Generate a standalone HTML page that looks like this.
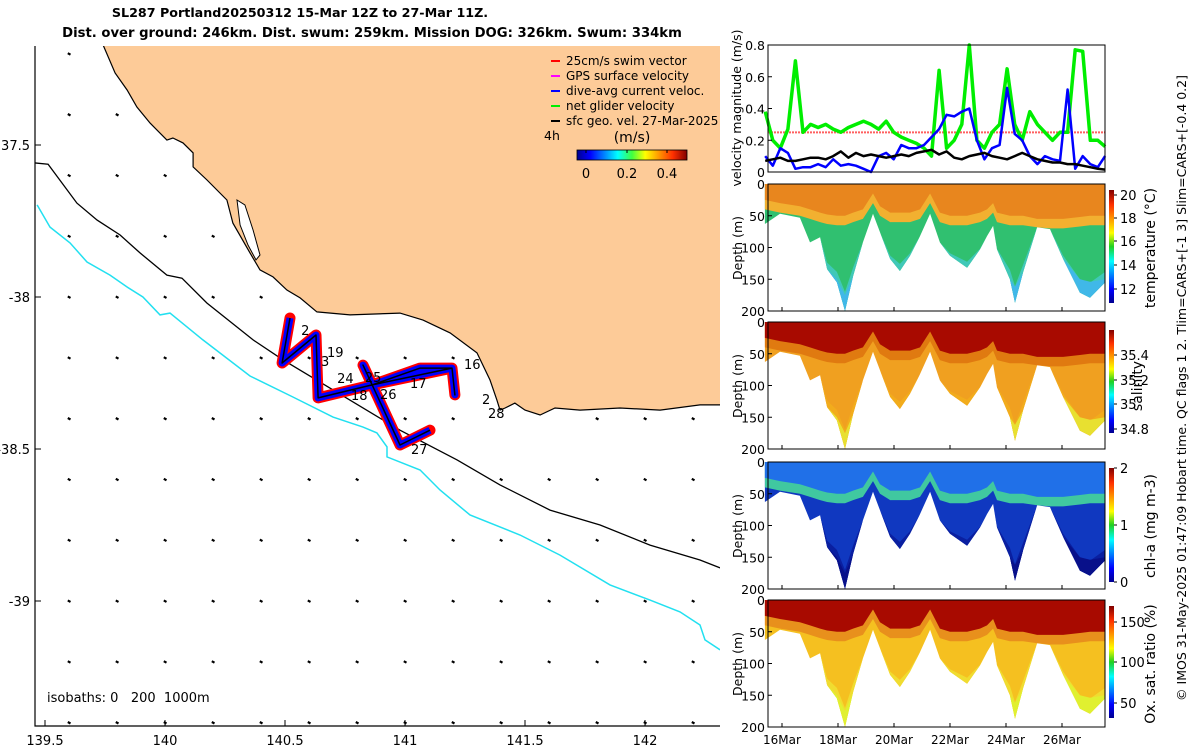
<!DOCTYPE html>
<html><head><meta charset="utf-8"><style>
html,body{margin:0;padding:0;background:#fff;width:1200px;height:750px;overflow:hidden}
svg{font-family:"DejaVu Sans","Liberation Sans",sans-serif}
</style></head><body>
<svg id="fig" width="1200" height="750" viewBox="0 0 1200 750" xmlns="http://www.w3.org/2000/svg">
<defs>
<linearGradient id="jetH" x1="0" x2="1" y1="0" y2="0">
<stop offset="0" stop-color="#00008f"/><stop offset="0.12" stop-color="#0000ff"/><stop offset="0.37" stop-color="#00ffff"/><stop offset="0.5" stop-color="#40ff40"/><stop offset="0.62" stop-color="#ffff00"/><stop offset="0.87" stop-color="#ff3000"/><stop offset="1" stop-color="#800000"/></linearGradient>
<linearGradient id="jetV" x1="0" x2="0" y1="1" y2="0">
<stop offset="0" stop-color="#00008f"/><stop offset="0.12" stop-color="#0000ff"/><stop offset="0.37" stop-color="#00ffff"/><stop offset="0.5" stop-color="#20d020"/><stop offset="0.62" stop-color="#ffff00"/><stop offset="0.87" stop-color="#ff3000"/><stop offset="1" stop-color="#800000"/></linearGradient>
<clipPath id="mapclip"><rect x="35" y="46" width="685" height="680"/></clipPath>
</defs>
<text x="300" y="17" text-anchor="middle" font-size="12.7" font-weight="bold">SL287 Portland20250312 15-Mar 12Z to 27-Mar 11Z.</text>
<text x="372" y="37" text-anchor="middle" font-size="13.2" font-weight="bold">Dist. over ground: 246km. Dist. swum: 259km. Mission DOG: 326km. Swum: 334km</text>
<g id="map"></g>
<g id="right"></g>
<text transform="translate(1186,388) rotate(-90)" text-anchor="middle" font-size="12.5">© IMOS 31-May-2025 01:47:09 Hobart time. QC flags 1  2. Tlim=CARS+[-1 3] Slim=CARS+[-0.4 0.2]</text>
</svg>
<script>
// ---------- MAP DATA ----------
const coastLon=[139.742,139.792,139.842,139.883,139.938,140.008,140.033,140.075,140.117,140.117,140.175,140.258,140.283,140.354,140.396,140.450,140.508,140.563,140.633,140.771,140.979,141.075,141.188,141.300,141.354,141.383,141.396,141.417,141.458,141.500,141.563,141.625,141.729,141.896,142.063,142.229,142.313];
const coastLat=[-37.171,-37.263,-37.319,-37.375,-37.428,-37.484,-37.477,-37.493,-37.526,-37.572,-37.615,-37.681,-37.757,-37.855,-37.911,-37.934,-37.977,-38.003,-38.049,-38.059,-38.053,-38.076,-38.118,-38.184,-38.273,-38.339,-38.372,-38.365,-38.349,-38.372,-38.388,-38.365,-38.372,-38.365,-38.372,-38.355,-38.355];
const islandLon=[140.300,140.333,140.367,140.396,140.379,140.346,140.313];
const islandLat=[-37.681,-37.697,-37.780,-37.862,-37.878,-37.829,-37.763];
const iso200Lon=[139.458,139.513,139.633,139.717,139.813,139.896,140.008,140.071,140.175,140.367,140.492,140.979,141.217,141.396,141.604,141.813,142.021,142.229,142.313];
const iso200Lat=[-37.559,-37.563,-37.691,-37.747,-37.796,-37.855,-37.928,-37.938,-38.020,-38.141,-38.207,-38.438,-38.536,-38.618,-38.701,-38.750,-38.816,-38.865,-38.891];
const iso1000Lon=[139.467,139.521,139.604,139.675,139.771,139.842,139.908,139.979,140.021,140.158,140.354,140.533,140.700,140.825,140.883,140.925,140.925,141.063,141.146,141.271,141.479,141.646,141.854,142.021,142.146,142.229,142.250,142.313];
const iso1000Lat=[-37.697,-37.770,-37.822,-37.885,-37.928,-37.967,-38.000,-38.059,-38.053,-38.141,-38.260,-38.329,-38.395,-38.428,-38.447,-38.493,-38.526,-38.569,-38.635,-38.717,-38.783,-38.849,-38.947,-38.997,-39.036,-39.079,-39.128,-39.161];
const trackLon=[140.521,140.488,140.629,140.638,140.863,141.063,141.196,141.208,141.196,140.863,140.825,140.979,141.104];
const trackLat=[-38.069,-38.217,-38.125,-38.332,-38.289,-38.234,-38.234,-38.322,-38.234,-38.289,-38.224,-38.487,-38.438];
const dayLabels=['2','19','3','24','25','17','16','18','26','2','28','27'];
const dayLabLon=[140.567,140.675,140.650,140.717,140.833,141.021,141.246,140.775,140.896,141.321,141.346,141.025];
const dayLabLat=[-38.125,-38.197,-38.227,-38.283,-38.280,-38.299,-38.237,-38.339,-38.335,-38.352,-38.398,-38.516];
const lonTicks=[139.5,140,140.5,141,141.5,142];
const latTicks=[-37.5,-38,-38.5,-39];

const NS='http://www.w3.org/2000/svg';
function mk(parent,tag,attrs,name){const e=document.createElementNS(NS,tag);for(const k in attrs)e.setAttribute(k,attrs[k]);


parent.appendChild(e);return e;}
const mx=lon=>45+(lon-139.5)*240;
const my=lat=>145+(-37.5-lat)*304;
const map=document.getElementById('map');
function pts(lons,lats){return lons.map((l,i)=>mx(l).toFixed(1)+','+my(lats[i]).toFixed(1)).join(' ');}
const mg=mk(map,'g',{'clip-path':'url(#mapclip)'},'map-content');
mk(mg,'polygon',{points:pts(coastLon,coastLat)+' '+mx(142.4)+','+my(-37.0)+' '+mx(139.74)+','+my(-37.0),fill:'#fdcb98',stroke:'none'},'land');
mk(mg,'polyline',{points:pts(coastLon,coastLat),fill:'none',stroke:'#000','stroke-width':1.2},'coastline-0m');
mk(mg,'polygon',{points:pts(islandLon,islandLat),fill:'#fff',stroke:'#000','stroke-width':1},'coastal-lake');
mk(mg,'polyline',{points:pts(iso200Lon,iso200Lat),fill:'none',stroke:'#000','stroke-width':1.3},'isobath-200m');
mk(mg,'polyline',{points:pts(iso1000Lon,iso1000Lat),fill:'none',stroke:'#22e0f0','stroke-width':1.5},'isobath-1000m');
function coastAt(lon){for(let i=0;i<coastLon.length-1;i++){if(lon>=coastLon[i]&&lon<=coastLon[i+1]){const t=(lon-coastLon[i])/(coastLon[i+1]-coastLon[i]||1);return coastLat[i]+t*(coastLat[i+1]-coastLat[i]);}}return lon<coastLon[0]?-99:-38.36;}
for(let lo=139.6;lo<142.31;lo+=0.2){for(let la=-37.2;la>-39.5;la-=0.2){
 if(lo>139.74&&la>coastAt(lo)-0.03)continue;
 const x=mx(lo),y=my(la);
 mk(mg,'line',{x1:x-1.2,y1:y-0.6,x2:x+1.5,y2:y+0.9,stroke:'#000','stroke-width':2.2},'geo-velocity-arrow');}}
mk(mg,'polyline',{points:pts(trackLon,trackLat),fill:'none',stroke:'#ff0000','stroke-width':11,'stroke-linejoin':'round','stroke-linecap':'round'},'swim-vector-track');
mk(mg,'polyline',{points:pts(trackLon,trackLat),fill:'none',stroke:'#0000ff','stroke-width':7,'stroke-linejoin':'round'},'dive-avg-current-track');
mk(mg,'polyline',{points:pts(trackLon,trackLat),fill:'none',stroke:'#000','stroke-width':1.5,'stroke-linejoin':'round'},'glider-track');
dayLabels.forEach((t,i)=>{const e=mk(mg,'text',{x:mx(dayLabLon[i]),y:my(dayLabLat[i]),'font-size':13},'day-label');e.textContent=t;});
mk(map,'polyline',{points:'35,46 35,726 720,726',fill:'none',stroke:'#000','stroke-width':1.2},'map-axes');
lonTicks.forEach(v=>{const x=mx(v);mk(map,'line',{x1:x,y1:726,x2:x,y2:720,stroke:'#000'},'x-tick');const t=mk(map,'text',{x:x,y:745,'text-anchor':'middle','font-size':13},'x-tick-label');t.textContent=String(v);});
latTicks.forEach((v,i)=>{const y=my(v);mk(map,'line',{x1:35,y1:y,x2:41,y2:y,stroke:'#000'},'y-tick');const t=mk(map,'text',{x:30,y:y+5,'text-anchor':'end','font-size':13},'y-tick-label');t.textContent=i===0?'37.5':String(v);});
const iso=mk(map,'text',{x:47,y:702,'font-size':13},'isobath-note');iso.textContent='isobaths: 0\u00a0\u00a0\u00a0200\u00a0\u00a01000m';
const leg=[['#ff0000','25cm/s swim vector'],['#ff00ff','GPS surface velocity'],['#0000ff','dive-avg current veloc.'],['#00ee00','net glider velocity'],['#000','sfc geo. vel. 27-Mar-2025']];
leg.forEach((d,i)=>{const y=61+i*15;mk(map,'line',{x1:551,y1:y,x2:560,y2:y,stroke:d[0],'stroke-width':2},'legend-swatch');const t=mk(map,'text',{x:566,y:y+4,'font-size':12},'legend-entry');t.textContent=d[1];});
const h4=mk(map,'text',{x:544,y:140,'font-size':12.5},'legend-4h');h4.textContent='4h';
const ms=mk(map,'text',{x:632,y:142,'text-anchor':'middle','font-size':14},'colorbar-title');ms.textContent='(m/s)';
mk(map,'rect',{x:577,y:150,width:110,height:10,fill:'url(#jetH)',stroke:'#000','stroke-width':0.8},'speed-colorbar');
[['0',586],['0.2',627],['0.4',667]].forEach(d=>{mk(map,'line',{x1:d[1],y1:150,x2:d[1],y2:153,stroke:'#000'},'colorbar-tick');const t=mk(map,'text',{x:d[1],y:178,'text-anchor':'middle','font-size':13},'colorbar-tick-label');t.textContent=d[0];});

// ---------- TIME SERIES DATA ----------
const velDays=[15.4,15.67,15.94,16.21,16.48,16.75,17.02,17.29,17.56,17.83,18.1,18.37,18.64,18.91,19.18,19.45,19.72,19.99,20.26,20.53,20.8,21.07,21.34,21.61,21.88,22.15,22.42,22.69,22.96,23.23,23.5,23.77,24.04,24.31,24.58,24.85,25.12,25.39,25.66,25.93,26.2,26.47,26.74,27.01,27.28,27.54];
const netGlider=[0.38,0.2,0.15,0.27,0.7,0.25,0.3,0.28,0.3,0.27,0.25,0.28,0.3,0.32,0.3,0.27,0.32,0.25,0.22,0.2,0.18,0.15,0.1,0.64,0.15,0.2,0.3,0.8,0.2,0.15,0.25,0.3,0.65,0.3,0.2,0.38,0.3,0.25,0.2,0.25,0.25,0.77,0.76,0.2,0.2,0.16];
const diveAvg=[0.1,0.04,0.15,0.12,0.02,0.03,0.03,0.05,0.03,0.08,0.04,0.05,0.04,0.02,0.0,0.1,0.12,0.08,0.17,0.15,0.15,0.17,0.22,0.27,0.36,0.35,0.38,0.4,0.2,0.08,0.15,0.17,0.53,0.24,0.2,0.1,0.05,0.1,0.08,0.07,0.52,0.02,0.1,0.05,0.03,0.1];
const geoVel=[0.07,0.08,0.09,0.07,0.07,0.08,0.09,0.09,0.08,0.1,0.13,0.09,0.12,0.1,0.11,0.1,0.09,0.1,0.11,0.1,0.12,0.13,0.14,0.11,0.13,0.09,0.08,0.1,0.11,0.12,0.1,0.09,0.08,0.1,0.12,0.1,0.08,0.07,0.06,0.06,0.05,0.05,0.04,0.03,0.02,0.015];
const swimRef=0.25;
const velTicks=[0,0.2,0.4,0.6,0.8];
const profDays=[15.39,15.93,16.64,17.0,17.36,17.61,17.96,18.25,18.54,18.89,19.25,19.5,19.86,20.21,20.57,20.93,21.29,21.64,22.0,22.61,23.07,23.32,23.54,23.68,24.14,24.32,24.61,25.11,25.57,26.04,26.64,27.0,27.54];
const maxDepth=[63,47,53,92,84,134,155,200,145,92,47,76,118,137,113,82,47,92,113,132,103,82,66,103,150,187,139,68,71,118,171,179,155];
const mixedLayer=[25,30,35,40,45,48,50,50,45,40,15,35,45,45,45,40,15,45,50,50,45,40,30,45,50,50,50,55,55,55,52,50,50];
const depthTicks=[0,50,100,150,200];
const dateTicks=[16,18,20,22,24,26];
const dateLabels=['16Mar','18Mar','20Mar','22Mar','24Mar','26Mar'];

const R=document.getElementById('right');
const tx=d=>782+(d-16)*28;
const X0=768,X1=1105;
const vy=v=>172-v*158.75;
mk(R,'rect',{x:X0,y:45,width:X1-X0,height:127,fill:'#fff',stroke:'none'},'velocity-plot-bg');
mk(R,'line',{x1:X0,y1:vy(swimRef),x2:X1,y2:vy(swimRef),stroke:'#ff6060','stroke-width':2,'stroke-dasharray':'2,1'},'swim-speed-line');
function line(days,vals,col,w,name){mk(R,'polyline',{points:days.map((d,i)=>tx(d).toFixed(1)+','+vy(vals[i]).toFixed(1)).join(' '),fill:'none',stroke:col,'stroke-width':w,'stroke-linejoin':'round'},name);}
line(velDays,netGlider,'#00ee00',3.5,'net-glider-velocity-line');
line(velDays,diveAvg,'#0000ff',2.5,'dive-avg-velocity-line');
line(velDays,geoVel,'#000',2.5,'geostrophic-velocity-line');
mk(R,'rect',{x:X0,y:45,width:X1-X0,height:127,fill:'none',stroke:'#000','stroke-width':1},'velocity-axes');
velTicks.forEach(v=>{mk(R,'line',{x1:X0,y1:vy(v),x2:X0+4,y2:vy(v),stroke:'#000'},'velocity-tick');const t=mk(R,'text',{x:X0-3,y:vy(v)+5,'text-anchor':'end','font-size':12.5},'velocity-tick-label');t.textContent=String(v);});
const vl=mk(R,'text',{transform:'translate(741,108) rotate(-90)','text-anchor':'middle','font-size':12.5},'velocity-axis-title');vl.textContent='velocity magnitude (m/s)';

const panels=[
 {y0:184,name:'temperature',label:'temperature (°C)',lx:1155,top:'#e8861e',mid:'#f2b030',deep:'#30c070',bottom:'#40c8b8',tip:'#40b8e8',bar:[190,303],ticks:[['20',195],['18',218],['16',241],['14',265],['12',289]]},
 {y0:322,name:'salinity',label:'salinity',lx:1142,top:'#a80a00',mid:'#e07a10',deep:'#f0a020',bottom:'#f2ac1c',tip:'#e8e030',bar:[330,433],ticks:[['35.4',355],['35.2',380],['35',404],['34.8',429]]},
 {y0:462,name:'chlorophyll',label:'chl-a (mg m-3)',lx:1155,top:'#2070e8',mid:'#40c8a0',deep:'#1038c0',bottom:'#0a1fa0',tip:'#08108a',bar:[468,582],ticks:[['2',468],['1',525],['0',582]]},
 {y0:600,name:'oxygen',label:'Ox. sat. ratio (%)',lx:1155,top:'#a80a00',mid:'#e8901c',deep:'#f5c020',bottom:'#f0dc30',tip:'#e0f030',bar:[606,718],ticks:[['150',622],['100',662],['50',703]]}
];
panels.forEach(p=>{
 const dy=d=>p.y0+d*0.635;
 const g=mk(R,'g',{},p.name+'-section');
 const bottomPts=profDays.map((d,i)=>tx(d).toFixed(1)+','+dy(maxDepth[i]).toFixed(1));
 const first=tx(profDays[0]).toFixed(1), last=tx(profDays[profDays.length-1]).toFixed(1);
 mk(g,'polygon',{points:first+','+dy(0)+' '+bottomPts.join(' ')+' '+last+','+dy(0),fill:p.deep},p.name+'-deep-water');
 const lower=profDays.map((d,i)=>tx(d).toFixed(1)+','+dy(Math.max(mixedLayer[i]+10,Math.min(maxDepth[i],maxDepth[i]*0.7+30))).toFixed(1));
 mk(g,'polygon',{points:bottomPts.join(' ')+' '+lower.slice().reverse().join(' '),fill:p.bottom},p.name+'-bottom-water');
 const tipPts=profDays.map((d,i)=>tx(d).toFixed(1)+','+dy(Math.max(maxDepth[i]-25,Math.min(maxDepth[i],150))).toFixed(1));
 mk(g,'polygon',{points:bottomPts.join(' ')+' '+tipPts.slice().reverse().join(' '),fill:p.tip},p.name+'-deepest-water');
 const mid=profDays.map((d,i)=>tx(d).toFixed(1)+','+dy(Math.min(mixedLayer[i]+15,maxDepth[i])).toFixed(1));
 mk(g,'polygon',{points:first+','+dy(0)+' '+mid.join(' ')+' '+last+','+dy(0),fill:p.mid},p.name+'-thermocline');
 const top=profDays.map((d,i)=>tx(d).toFixed(1)+','+dy(Math.min(mixedLayer[i],maxDepth[i])).toFixed(1));
 mk(g,'polygon',{points:first+','+dy(0)+' '+top.join(' ')+' '+last+','+dy(0),fill:p.top},p.name+'-mixed-layer');
 mk(R,'rect',{x:X0,y:p.y0,width:X1-X0,height:127,fill:'none',stroke:'#000','stroke-width':1},p.name+'-axes');
 depthTicks.forEach(v=>{mk(R,'line',{x1:X0,y1:dy(v),x2:X0+4,y2:dy(v),stroke:'#000'},'depth-tick');const t=mk(R,'text',{x:X0-3,y:dy(v)+5,'text-anchor':'end','font-size':12.5},'depth-tick-label');t.textContent=String(v);});
 const dl=mk(R,'text',{transform:'translate(742,'+(p.y0+64)+') rotate(-90)','text-anchor':'middle','font-size':12.5},'depth-axis-title');dl.textContent='Depth (m)';
 dateTicks.forEach(d=>{mk(R,'line',{x1:tx(d),y1:p.y0+127,x2:tx(d),y2:p.y0+123,stroke:'#000'},'date-tick');});
 mk(R,'rect',{x:1109,y:p.bar[0],width:5,height:p.bar[1]-p.bar[0],fill:'url(#jetV)'},p.name+'-colorbar');
 p.ticks.forEach(t=>{mk(R,'line',{x1:1114,y1:t[1],x2:1117,y2:t[1],stroke:'#000'},'colorbar-tick');const e=mk(R,'text',{x:1120,y:t[1]+5,'font-size':13},'colorbar-tick-label');e.textContent=t[0];});
 const lb=mk(R,'text',{transform:'translate('+p.lx+','+(p.y0+64)+') rotate(-90)','text-anchor':'middle','font-size':14},p.name+'-colorbar-title');lb.textContent=p.label;
});
dateTicks.forEach((d,i)=>{const t=mk(R,'text',{x:tx(d),y:744,'text-anchor':'middle','font-size':12},'date-tick-label');t.textContent=dateLabels[i];});
</script>
</body></html>
